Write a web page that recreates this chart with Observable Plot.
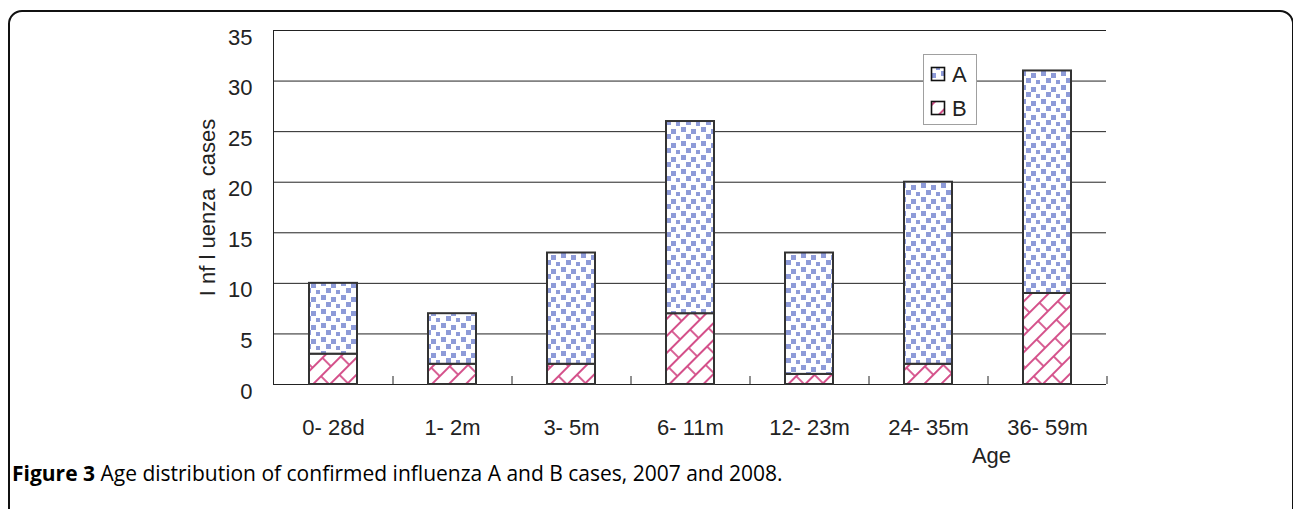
<!DOCTYPE html>
<html>
<head>
<meta charset="utf-8">
<script src="https://cdn.jsdelivr.net/npm/d3@7"></script>
<script src="https://cdn.jsdelivr.net/npm/@observablehq/plot@0.6"></script>
<style>
  body { margin: 0; background: #fff; }
  #wrap { position: relative; width: 1293px; height: 509px; overflow: hidden; }
  #border { position: absolute; left: 8px; top: 10px; width: 1286px; height: 620px;
            border: 2px solid #111; border-radius: 14px; box-sizing: border-box; pointer-events: none; }
  #chart svg { display: block; }
  #caption { margin-left: 12px; font-family: "Open Sans", sans-serif; font-size: 21px; line-height: 24px;
             color: #000; white-space: nowrap; }
  #caption b { font-weight: 700; }
</style>
</head>
<body>
<div id="wrap">
  <div id="chart"></div>
  <div id="caption"><b>Figure 3</b> Age distribution of confirmed influenza A and B cases, 2007 and 2008.</div>
  <div id="border"></div>
</div>
<script>
// ---- data ----
const ages = ["0- 28d", "1- 2m", "3- 5m", "6- 11m", "12- 23m", "24- 35m", "36- 59m"];
const seriesB = [3, 2, 2, 7, 1, 2, 9];
const seriesA = [7, 5, 11, 19, 12, 18, 22];
const yTicks = [0, 5, 10, 15, 20, 25, 30, 35];
const seriesNames = ["A", "B"];
const yTitle = "I nf l uenza  cases";
const xTitle = "Age";

const rows = ages.map((age, i) => ({age, A: seriesA[i], B: seriesB[i]}));

const font = "'Liberation Sans', Arial, Helvetica, sans-serif";
const ink = "#222";
const step = 119;

const svg = Plot.plot({
  width: 1293,
  height: 461,
  marginLeft: 273,
  marginRight: 187,
  marginTop: 30,
  marginBottom: 77,
  style: {fontFamily: font, fontSize: "22px", color: ink, background: "transparent", overflow: "visible"},
  x: {type: "band", domain: ages, paddingInner: 0.6, paddingOuter: 0.3},
  y: {domain: [0, 35]},
  marks: [
    Plot.ruleY(yTicks, {stroke: ink, strokeWidth: 1}),
    Plot.frame({anchor: "left", stroke: ink, strokeWidth: 1}),
    Plot.ruleX(ages, {x: d => d, dx: step / 2, y1: 0, y2: 0, insetTop: -8, stroke: ink, strokeWidth: 1}),
    Plot.axisY(yTicks, {tickSize: 0, tickPadding: 21, fontSize: 22, dy: 7, label: null, fill: ink}),
    Plot.axisX({tickSize: 0, tickPadding: 35, fontSize: 22, label: null, fill: ink}),
    Plot.barY(rows, {x: "age", y1: 0, y2: "B", fill: "url(#patB)", stroke: "#333", strokeWidth: 2}),
    Plot.barY(rows, {x: "age", y1: "B", y2: d => d.B + d.A, fill: "url(#patA)", stroke: "#333", strokeWidth: 2}),
    Plot.text([yTitle], {text: d => d, frameAnchor: "left", textAnchor: "middle", dx: -66, rotate: -90, fontSize: 22, fill: ink}),
    Plot.text([xTitle], {text: d => d, frameAnchor: "bottom", textAnchor: "middle", dx: 301.5, dy: 78, fontSize: 22, fill: ink})
  ]
});

// patterns
const s = d3.select(svg);
const defs = s.insert("defs", ":first-child");
const pa = defs.append("pattern").attr("id", "patA").attr("patternUnits", "userSpaceOnUse")
  .attr("width", 20).attr("height", 14);
pa.append("rect").attr("width", 20).attr("height", 14).attr("fill", "#fff");
[[1,1],[11,3],[6,8],[16,10]].forEach(([x, y]) => {
  pa.append("rect").attr("x", x).attr("y", y).attr("width", 5).attr("height", 5).attr("fill", "#8e9bd8");
});
const pb = defs.append("pattern").attr("id", "patB").attr("patternUnits", "userSpaceOnUse")
  .attr("width", 28).attr("height", 24).attr("patternTransform", "rotate(-45)");
pb.append("rect").attr("x", -2).attr("y", -2).attr("width", 32).attr("height", 28).attr("fill", "#fff");
pb.append("path")
  .attr("d", "M0,1H28M0,13H28M3,1V13M17,13V25")
  .attr("stroke", "#d4508a").attr("stroke-width", 1.8).attr("fill", "none");

// legend
const lg = s.append("g").attr("text-anchor", "start");
lg.append("rect").attr("x", 923.5).attr("y", 54.5).attr("width", 53).attr("height", 70)
  .attr("fill", "#fff").attr("stroke", "#a0a0a0").attr("stroke-width", 1);
const fills = {A: "url(#patA)", B: "url(#patB)"};
seriesNames.forEach((n, i) => {
  const y = 67 + i * 34;
  lg.append("rect").attr("x", 931.5).attr("y", y + 0.5).attr("width", 13).attr("height", 13)
    .attr("fill", fills[n]).attr("stroke", "#111").attr("stroke-width", 1.6);
  lg.append("text").attr("x", 952).attr("y", y + 14.5).attr("font-size", 22).attr("fill", ink)
    .attr("text-anchor", "start").attr("font-family", font).text(n);
});

document.getElementById("chart").appendChild(svg);
</script>
</body>
</html>
